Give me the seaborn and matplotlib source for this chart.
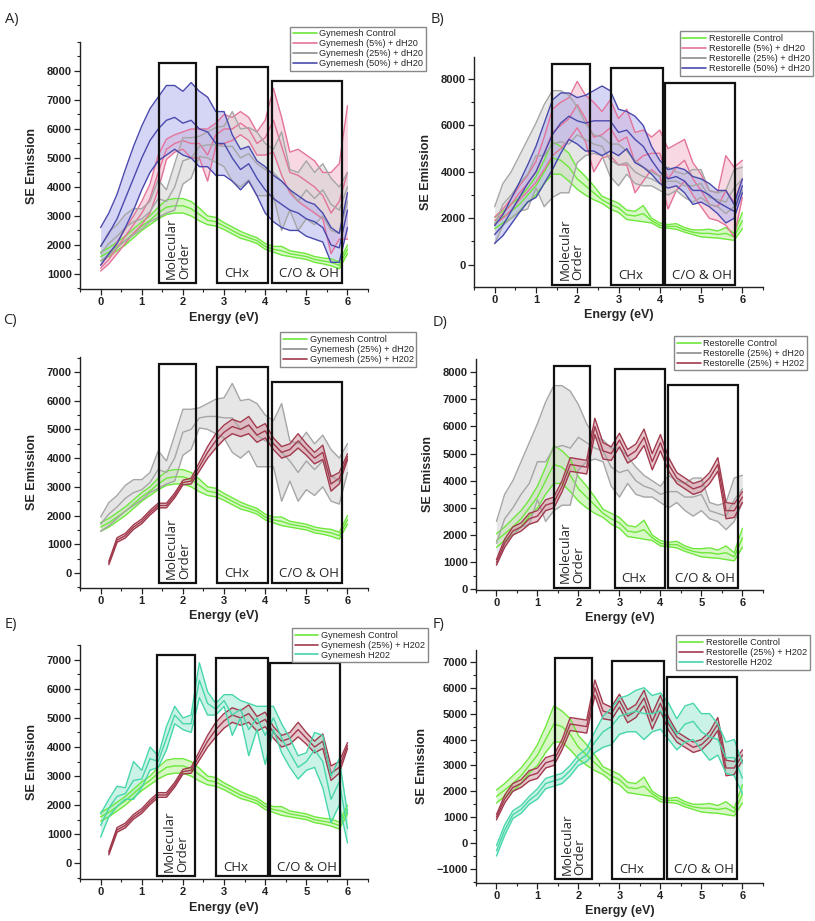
"""SE emission spectra of Gynemesh and Restorelle meshes, six panels (A-F)."""

import numpy as np
import pandas as pd
import matplotlib
matplotlib.use("Agg")
import matplotlib.pyplot as plt
import seaborn as sns
from matplotlib.lines import Line2D
from matplotlib.patches import Rectangle
from matplotlib.ticker import MultipleLocator

# ---- data (0.2 eV grid) ----
energy = [0.0, 0.2, 0.4, 0.6, 0.8, 1.0, 1.2, 1.4, 1.6, 1.8, 2.0, 2.2, 2.4, 2.6, 2.8, 3.0,
          3.2, 3.4, 3.6, 3.8, 4.0, 4.2, 4.4, 4.6, 4.8, 5.0, 5.2, 5.4, 5.6, 5.8, 6.0]

gyn_ctrl_mean = [1600, 1750, 1950, 2150, 2400, 2650, 2850, 3100, 3300, 3350, 3350, 3250, 3050, 2850, 2800, 2650,
                 2500, 2350, 2250, 2150, 1950, 1850, 1800, 1700, 1650, 1600, 1500, 1450, 1400, 1300, 1850]
gyn_ctrl_sd = [150, 150, 150, 150, 150, 150, 150, 200, 250, 250, 250, 250, 220, 150, 150, 120,
               120, 120, 100, 100, 100, 100, 150, 100, 100, 100, 100, 100, 120, 120, 150]

gyn_5_mean = [1200, 1500, 1900, 2300, 2700, 3100, 3600, 4500, 5300, 5500, 5600, 5500, 5500, 5100, 5800, 6000,
              6000, 6200, 6000, 5500, 5700, 6300, 5400, 4500, 4400, 4200, 4000, 3700, 3100, 3500, 4500]
gyn_5_sd = [100, 150, 200, 250, 300, 400, 500, 600, 350, 300, 300, 500, 500, 900, 400, 500,
            400, 400, 400, 400, 600, 1100, 1000, 700, 900, 900, 900, 800, 1400, 1300, 2300]

gyn_25_mean = [1700, 2050, 2300, 2600, 2800, 2900, 3150, 3600, 3500, 4000, 4900, 5000, 5400, 5450, 5450, 5400,
               5400, 5000, 5150, 4800, 4600, 4500, 4200, 3900, 3500, 3900, 3600, 3900, 3400, 3200, 4000]
gyn_25_sd = [250, 400, 400, 450, 450, 350, 350, 650, 400, 800, 800, 700, 350, 450, 600, 700,
             1200, 1000, 900, 1100, 900, 800, 1700, 700, 1000, 1000, 900, 900, 900, 800, 500]

gyn_50_mean = [1950, 2400, 2900, 3600, 4300, 5000, 5600, 6000, 6300, 6400, 6200, 6300, 6000, 5900, 5500, 5500,
               5000, 4600, 4800, 4300, 3900, 3600, 3400, 3200, 3100, 2900, 2800, 2600, 2000, 1900, 3200]
gyn_50_sd = [650, 700, 850, 1000, 1100, 1100, 1100, 1100, 1200, 1100, 1100, 1300, 1300, 1200, 1100, 1100,
             800, 700, 600, 600, 800, 800, 800, 700, 600, 600, 600, 500, 600, 500, 600]

gyn_25h_mean = [np.nan, 350, 1150, 1300, 1600, 1800, 2100, 2350, 2350, 2700, 3150, 3200, 3700, 4200, 4600, 4900,
                5100, 5000, 5150, 4800, 4950, 4500, 4200, 4300, 4600, 4300, 4000, 4200, 3100, 3300, 4050]
gyn_25h_sd = [np.nan, 60, 80, 80, 80, 80, 80, 80, 80, 80, 80, 100, 150, 200, 250, 250,
              250, 250, 300, 250, 250, 200, 200, 200, 250, 200, 200, 250, 250, 200, 100]

gyn_h_mean = [1300, 1900, 2300, 2400, 2850, 2900, 3600, 3500, 4300, 5100, 4800, 4800, 6300, 5500, 5300, 5600,
              5100, 5300, 4600, 5000, 4400, 5000, 4300, 3800, 3300, 3500, 3900, 3500, 2200, 2800, 1200]
gyn_h_sd = [400, 300, 350, 200, 650, 300, 400, 200, 400, 300, 200, 300, 600, 400, 200, 200,
            700, 300, 900, 400, 1000, 400, 500, 500, 400, 300, 600, 900, 800, 800, 500]

res_ctrl_mean = [1800, 2050, 2300, 2600, 3000, 3400, 4000, 4600, 4500, 4200, 3700, 3400, 3100, 2800, 2600, 2450,
                 2150, 2100, 2200, 1900, 1700, 1650, 1650, 1500, 1400, 1350, 1350, 1300, 1350, 1200, 1900]
res_ctrl_sd = [250, 250, 300, 300, 300, 400, 500, 700, 600, 600, 450, 400, 300, 150, 200, 200,
               200, 200, 350, 100, 100, 80, 120, 100, 100, 150, 180, 150, 250, 150, 350]

res_5_mean = [1900, 2200, 2600, 3100, 3500, 4000, 4800, 5700, 6000, 6300, 6900, 6300, 5500, 5600, 5900, 5300,
              5500, 4400, 4700, 4800, 4800, 3700, 4200, 4500, 3700, 3200, 2600, 2500, 3200, 2700, 3700]
res_5_sd = [150, 200, 250, 300, 350, 450, 700, 1000, 1000, 900, 1000, 1000, 1500, 1000, 1200, 1000,
            1200, 1300, 1100, 700, 1000, 1300, 1000, 900, 700, 700, 600, 600, 1500, 1500, 800]

res_25_mean = [1700, 2600, 3000, 3500, 3900, 4700, 4700, 5200, 5300, 5200, 5600, 5400, 5200, 5100, 4500, 4300,
               4400, 4000, 3800, 3700, 3500, 3600, 3600, 3400, 3400, 3500, 2900, 2800, 2700, 3300, 3700]
res_25_sd = [800, 900, 1000, 1200, 1500, 1400, 2200, 2300, 2200, 2100, 1200, 700, 400, 400, 700, 900,
             500, 500, 400, 300, 300, 600, 400, 500, 700, 600, 300, 300, 500, 800, 500]

res_50_mean = [1300, 1700, 2300, 2900, 3500, 4000, 4800, 5600, 6100, 6400, 6200, 6100, 6200, 6200, 6200, 5700,
               5800, 5400, 5100, 4500, 4000, 3700, 3800, 3600, 3200, 3200, 3000, 2700, 2500, 2300, 3400]
res_50_sd = [380, 450, 550, 650, 800, 1100, 1300, 1500, 1300, 1000, 1000, 1200, 1300, 1500, 1300, 1000,
             800, 1000, 900, 600, 500, 400, 400, 500, 600, 500, 500, 500, 700, 300, 300]

res_25h_mean = [1000, 1700, 2150, 2300, 2600, 2700, 3100, 3200, 3800, 4600, 4550, 4500, 6000, 5100, 5000, 5500,
                4900, 5100, 5600, 4700, 5400, 4600, 4100, 3900, 3700, 3800, 4100, 4600, 2900, 2900, 3400]
res_25h_sd = [100, 150, 150, 150, 200, 200, 200, 200, 200, 250, 250, 250, 300, 300, 250, 250,
              250, 250, 300, 300, 300, 250, 200, 200, 200, 200, 200, 250, 300, 250, 200]

res_h_mean = [-300, 500, 1100, 1300, 1650, 1900, 2300, 2400, 2500, 2800, 3200, 3400, 3900, 4300, 4500, 4900,
              5000, 5100, 5000, 5000, 5100, 4700, 4200, 4600, 4700, 4300, 4100, 4000, 3300, 3300, 2500]
res_h_sd = [200, 200, 150, 150, 150, 200, 200, 200, 200, 200, 200, 250, 400, 600, 700, 700,
            700, 800, 1000, 700, 700, 700, 600, 700, 700, 700, 900, 600, 600, 700, 600]

# series -> (mean, sd, line colour, fill colour)
series = {
    "Gynemesh Control": (gyn_ctrl_mean, gyn_ctrl_sd, "#6ee83c", "#b9f29a"),
    "Gynemesh (5%) + dH20": (gyn_5_mean, gyn_5_sd, "#e4739a", "#f3b8cb"),
    "Gynemesh (25%) + dH20": (gyn_25_mean, gyn_25_sd, "#a6a6a6", "#d3d3d3"),
    "Gynemesh (50%) + dH20": (gyn_50_mean, gyn_50_sd, "#4a4aae", "#b4b4ee"),
    "Gynemesh (25%) + H202": (gyn_25h_mean, gyn_25h_sd, "#a23a4e", "#d49aa6"),
    "Gynemesh H202": (gyn_h_mean, gyn_h_sd, "#47d6ab", "#9fe8d2"),
    "Restorelle Control": (res_ctrl_mean, res_ctrl_sd, "#6ee83c", "#b9f29a"),
    "Restorelle (5%) + dH20": (res_5_mean, res_5_sd, "#e4739a", "#f3b8cb"),
    "Restorelle (25%) + dH20": (res_25_mean, res_25_sd, "#a6a6a6", "#d3d3d3"),
    "Restorelle (50%) + dH20": (res_50_mean, res_50_sd, "#4a4aae", "#b4b4ee"),
    "Restorelle (25%) + H202": (res_25h_mean, res_25h_sd, "#a23a4e", "#d49aa6"),
    "Restorelle H202": (res_h_mean, res_h_sd, "#47d6ab", "#9fe8d2"),
}

panel_series = {
    "A)": ["Gynemesh Control", "Gynemesh (5%) + dH20", "Gynemesh (25%) + dH20", "Gynemesh (50%) + dH20"],
    "B)": ["Restorelle Control", "Restorelle (5%) + dH20", "Restorelle (25%) + dH20", "Restorelle (50%) + dH20"],
    "C)": ["Gynemesh Control", "Gynemesh (25%) + dH20", "Gynemesh (25%) + H202"],
    "D)": ["Restorelle Control", "Restorelle (25%) + dH20", "Restorelle (25%) + H202"],
    "E)": ["Gynemesh Control", "Gynemesh (25%) + H202", "Gynemesh H202"],
    "F)": ["Restorelle Control", "Restorelle (25%) + H202", "Restorelle H202"],
}

panel_yticks = {
    "A)": [1000, 2000, 3000, 4000, 5000, 6000, 7000, 8000],
    "B)": [0, 2000, 4000, 6000, 8000],
    "C)": [0, 1000, 2000, 3000, 4000, 5000, 6000, 7000],
    "D)": [0, 1000, 2000, 3000, 4000, 5000, 6000, 7000, 8000],
    "E)": [0, 1000, 2000, 3000, 4000, 5000, 6000, 7000],
    "F)": [-1000, 0, 1000, 2000, 3000, 4000, 5000, 6000, 7000],
}

region_names = ["Molecular\nOrder", "CHx", "C/O & OH"]
# per panel: (left, right, top) of each region box, plus common bottom
panel_boxes = {
    "A)": ([(1.43, 2.32, 8280), (2.84, 4.08, 8140), (4.17, 5.86, 7660)], 690),
    "B)": ([(1.40, 2.32, 8650), (2.83, 4.07, 8470), (4.12, 5.83, 7830)], -860),
    "C)": ([(1.43, 2.32, 7270), (2.84, 4.08, 7160), (4.17, 5.86, 6640)], -350),
    "D)": ([(1.40, 2.28, 8220), (2.88, 4.12, 8110), (4.19, 5.88, 7520)], 70),
    "E)": ([(1.37, 2.30, 7170), (2.81, 4.06, 7070), (4.12, 5.81, 6890)], -450),
    "F)": ([(1.43, 2.32, 7150), (2.83, 4.09, 7040), (4.16, 5.86, 6420)], -1390),
}

# ---- layout (figure fractions / limits) ----
layout = {
    "A)": dict(rect=[0.0982, 0.6862, 0.3534, 0.2682], ylim=(480, 9000), minor=500,
               tag=(0.006, 0.987), leg=(0.356, 0.971)),
    "B)": dict(rect=[0.5816, 0.6884, 0.3546, 0.2497], ylim=(-960, 8950), minor=1000,
               tag=(0.528, 0.987), leg=(0.834, 0.966)),
    "C)": dict(rect=[0.0982, 0.3616, 0.3534, 0.2508], ylim=(-520, 7520), minor=500,
               tag=(0.004, 0.660), leg=(0.344, 0.639)),
    "D)": dict(rect=[0.5840, 0.3594, 0.3521, 0.2508], ylim=(-20, 8480), minor=500,
               tag=(0.531, 0.658), leg=(0.827, 0.635)),
    "E)": dict(rect=[0.0982, 0.0456, 0.3534, 0.2541], ylim=(-540, 7510), minor=500,
               tag=(0.006, 0.330), leg=(0.358, 0.318)),
    "F)": dict(rect=[0.5840, 0.0413, 0.3521, 0.2530], ylim=(-1540, 7460), minor=500,
               tag=(0.531, 0.330), leg=(0.830, 0.310)),
}

sns.set_style("ticks")
plt.rcParams["font.family"] = ["Liberation Sans", "DejaVu Sans"]

fig = plt.figure(figsize=(8.15, 9.21), dpi=100)

for tag, names in panel_series.items():
    cfg = layout[tag]
    ax = fig.add_axes(cfg["rect"])

    for name in names:
        mean, sd, lc, fc = series[name]
        df = pd.DataFrame({"Energy": energy, "mean": mean, "sd": sd}).dropna()
        df["upper"] = df["mean"] + df["sd"]
        df["lower"] = df["mean"] - df["sd"]
        ax.fill_between(df["Energy"], df["lower"], df["upper"], color=fc, alpha=0.55, lw=0)
        for col in ["upper", "mean", "lower"]:
            sns.lineplot(data=df, x="Energy", y=col, ax=ax, color=lc, lw=1.0,
                         legend=False, sort=False)

    boxes, bottom = panel_boxes[tag]
    for (left, right, top), label in zip(boxes, region_names):
        ax.add_patch(Rectangle((left, bottom), right - left, top - bottom, fill=False,
                               ec="#111111", lw=1.6, zorder=10))
        if "\n" in label:
            ax.annotate(label, xy=((left + right) / 2, bottom), xytext=(0, 3),
                        textcoords="offset points", rotation=90, ha="center", va="bottom",
                        multialignment="left", fontsize=9.5, family="Open Sans",
                        linespacing=1.0, zorder=11)
        else:
            ax.annotate(label, xy=(left, bottom), xytext=(5, 2), textcoords="offset points",
                        ha="left", va="bottom", fontsize=9.5, family="Open Sans", zorder=11)

    ax.set_xlim(-0.5, 6.5)
    ax.set_ylim(*cfg["ylim"])
    ax.set_xticks([0, 1, 2, 3, 4, 5, 6])
    ax.xaxis.set_minor_locator(MultipleLocator(0.5))
    ax.set_yticks(panel_yticks[tag])
    ax.yaxis.set_minor_locator(MultipleLocator(cfg["minor"]))
    ax.tick_params(which="major", direction="out", length=4, width=0.9,
                   labelsize=8, colors="#222222", pad=2)
    ax.tick_params(which="minor", direction="out", length=2.2, width=0.8, colors="#222222")
    for lab in ax.get_xticklabels() + ax.get_yticklabels():
        lab.set_fontweight("bold")
    ax.set_xlabel("Energy (eV)", fontsize=9, fontweight="bold", labelpad=3)
    ax.set_ylabel("SE Emission", fontsize=9, fontweight="bold", labelpad=6)
    sns.despine(ax=ax)
    for sp in ["left", "bottom"]:
        ax.spines[sp].set_color("#222222")
        ax.spines[sp].set_linewidth(1.0)

    handles = [Line2D([], [], color=("#8c8c8c" if "25%) + dH" in n else series[n][2]), lw=1.2)
               for n in names]
    fig.legend(handles, names, loc="upper left", bbox_to_anchor=cfg["leg"], fontsize=6.6,
               frameon=True, fancybox=False, edgecolor="#888888", framealpha=1,
               borderpad=0.3, labelspacing=0.1, handlelength=2.6, handletextpad=0.3,
               borderaxespad=0)

    fig.text(cfg["tag"][0], cfg["tag"][1], tag, fontsize=10.5, family="Open Sans",
             ha="left", va="top")

fig.savefig("out.png", dpi=100)
